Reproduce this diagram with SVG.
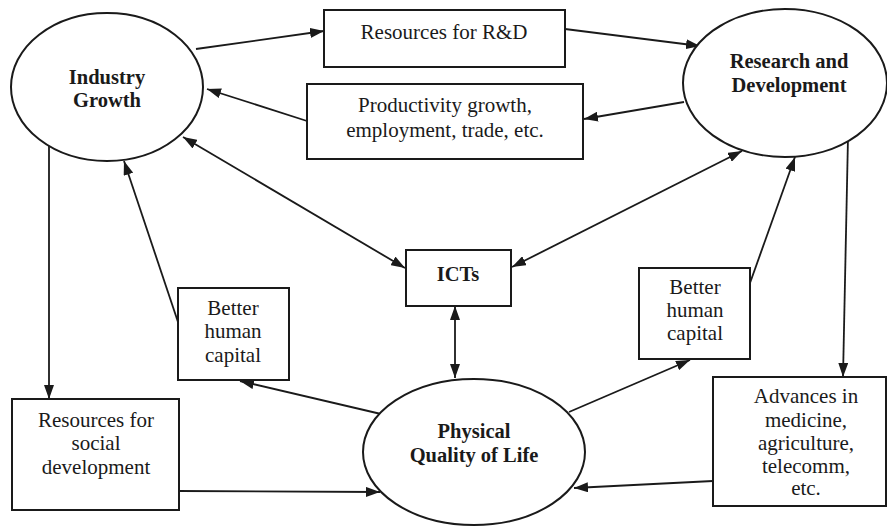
<svg xmlns="http://www.w3.org/2000/svg" width="887" height="527" viewBox="0 0 887 527">
  <style>
    .node { fill: #fff; stroke: #1a1a1a; stroke-width: 2; }
    .lbl { font-family: "Liberation Serif", "Times New Roman", serif; font-size: 21px; fill: #1a1a1a; text-anchor: middle; }
    .bold { font-weight: bold; font-size: 20.5px; }
    .edge { fill: none; stroke: #1a1a1a; stroke-width: 1.8; marker-end: url(#arrow); }
    .both { marker-start: url(#arrow); }
  </style>
  <defs>
    <marker id="arrow" viewBox="0 0 14 10" refX="14" refY="5" markerWidth="14" markerHeight="10" markerUnits="userSpaceOnUse" orient="auto-start-reverse">
      <path d="M0,0 L14,5 L0,10 Z" fill="#1a1a1a"/>
    </marker>
  </defs>
  <rect width="887" height="527" fill="#fff"/>

  <g id="connectors">
    <line class="edge" x1="196" y1="49" x2="324" y2="31"/>
    <line class="edge" x1="565" y1="29" x2="700" y2="46"/>
    <line class="edge" x1="684" y1="102" x2="584" y2="119"/>
    <line class="edge" x1="307" y1="121" x2="207" y2="89"/>
    <line class="edge both" x1="183" y1="137" x2="405" y2="268"/>
    <line class="edge both" x1="742" y1="151" x2="512" y2="267"/>
    <line class="edge both" x1="455" y1="306" x2="455" y2="378"/>
    <line class="edge" x1="49" y1="142" x2="49" y2="399"/>
    <line class="edge" x1="179" y1="491" x2="380" y2="492"/>
    <line class="edge" x1="381" y1="414" x2="240" y2="381"/>
    <line class="edge" x1="178" y1="322" x2="124" y2="161"/>
    <line class="edge" x1="569" y1="412" x2="690" y2="360"/>
    <line class="edge" x1="750" y1="283" x2="795" y2="157"/>
    <line class="edge" x1="848" y1="137" x2="843" y2="377"/>
    <line class="edge" x1="713" y1="481" x2="574" y2="488"/>
  </g>

  <g id="industry-growth">
    <ellipse class="node" cx="107" cy="87" rx="96" ry="74"/>
    <text class="lbl bold" x="107" y="84">Industry</text>
    <text class="lbl bold" x="107" y="107">Growth</text>
  </g>

  <g id="resources-rd">
    <rect class="node" x="324" y="10" width="241" height="57"/>
    <text class="lbl" x="444" y="39">Resources for R&amp;D</text>
  </g>

  <g id="productivity">
    <rect class="node" x="307" y="84" width="276" height="75"/>
    <text class="lbl" x="445" y="112">Productivity growth,</text>
    <text class="lbl" x="445" y="137">employment, trade, etc.</text>
  </g>

  <g id="research-development">
    <ellipse class="node" cx="785" cy="83" rx="102" ry="74"/>
    <text class="lbl bold" x="789" y="68">Research and</text>
    <text class="lbl bold" x="789" y="92">Development</text>
  </g>

  <g id="icts">
    <rect class="node" x="406" y="250" width="105" height="56"/>
    <text class="lbl bold" x="458" y="281">ICTs</text>
  </g>

  <g id="human-capital-left">
    <rect class="node" x="178" y="288" width="111" height="92"/>
    <text class="lbl" x="233" y="315">Better</text>
    <text class="lbl" x="233" y="338">human</text>
    <text class="lbl" x="233" y="362">capital</text>
  </g>

  <g id="human-capital-right">
    <rect class="node" x="639" y="268" width="111" height="91"/>
    <text class="lbl" x="695" y="294">Better</text>
    <text class="lbl" x="695" y="317">human</text>
    <text class="lbl" x="695" y="340">capital</text>
  </g>

  <g id="social-development">
    <rect class="node" x="12" y="399" width="167" height="111"/>
    <text class="lbl" x="96" y="427">Resources for</text>
    <text class="lbl" x="96" y="450">social</text>
    <text class="lbl" x="96" y="474">development</text>
  </g>

  <g id="quality-of-life">
    <ellipse class="node" cx="474" cy="452" rx="111" ry="73"/>
    <text class="lbl bold" x="474" y="438">Physical</text>
    <text class="lbl bold" x="474" y="462">Quality of Life</text>
  </g>

  <g id="advances">
    <rect class="node" x="713" y="377" width="173" height="129"/>
    <text class="lbl" x="806" y="403">Advances in</text>
    <text class="lbl" x="806" y="427">medicine,</text>
    <text class="lbl" x="806" y="450">agriculture,</text>
    <text class="lbl" x="806" y="473">telecomm,</text>
    <text class="lbl" x="806" y="495">etc.</text>
  </g>
</svg>
